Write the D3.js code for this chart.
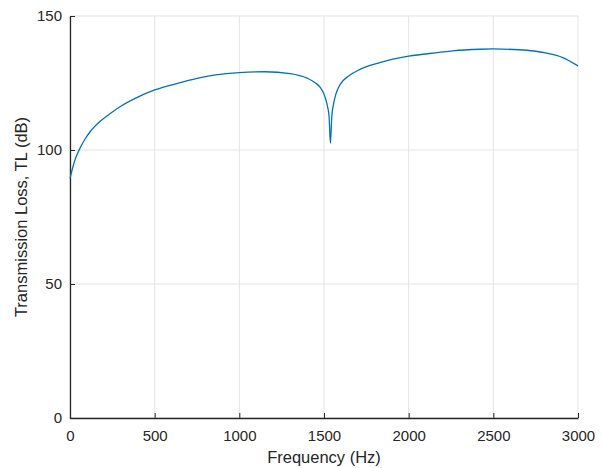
<!DOCTYPE html>
<html>
<head>
<meta charset="utf-8">
<script src="https://cdn.jsdelivr.net/npm/d3@7"></script>
<style>
  body { margin: 0; background: #fff; }
  text { font-family: "Liberation Sans", Arial, sans-serif; }
</style>
</head>
<body>
<div id="chart"></div>
<script>
// values
const freq = [0, 15, 30, 45, 60, 90, 120, 180, 240, 300, 400, 500, 650, 770, 850,
    1000, 1150, 1300, 1400, 1450, 1480, 1505, 1520, 1530, 1538, 1546, 1556, 1570,
    1595, 1650, 1710, 1830, 2000, 2180, 2260, 2420, 2500, 2650, 2810, 2910, 3000];
const tl = [89.4, 93.2, 96.4, 98.8, 100.8, 104.2, 106.9, 110.8, 113.7, 116.3, 119.7, 122.4, 125.1, 127.0, 127.9,
    128.9, 129.2, 128.5, 126.8, 125.0, 123.2, 120.0, 116.5, 112.5, 102.5, 112.5, 117.0, 120.8,
    124.4, 127.8, 130.0, 132.6, 135.0, 136.4, 137.0, 137.6, 137.7, 137.4, 136.2, 134.5, 131.4];
const xTicks = [0, 500, 1000, 1500, 2000, 2500, 3000];
const yTicks = [0, 50, 100, 150];

const width = 602, height = 468;
const margin = { top: 16, right: 24, bottom: 50, left: 70 };

const svg = d3.select("#chart").append("svg")
    .attr("width", width)
    .attr("height", height);

const x = d3.scaleLinear().domain([0, 3000]).range([margin.left, width - margin.right]);
const y = d3.scaleLinear().domain([0, 150]).range([height - margin.bottom, margin.top]);

// grid
svg.append("g")
    .selectAll("line")
    .data(xTicks)
    .join("line")
    .attr("x1", d => x(d)).attr("x2", d => x(d))
    .attr("y1", y(0)).attr("y2", y(150))
    .attr("stroke", "#e3e3e3");

svg.append("g")
    .selectAll("line")
    .data(yTicks)
    .join("line")
    .attr("x1", x(0)).attr("x2", x(3000))
    .attr("y1", d => y(d)).attr("y2", d => y(d))
    .attr("stroke", "#e3e3e3");

// axes
const xAxis = svg.append("g")
    .attr("transform", `translate(0,${y(0)})`)
    .call(d3.axisBottom(x).tickValues(xTicks).tickFormat(d3.format("d"))
        .tickSizeInner(-5).tickSizeOuter(0).tickPadding(12));

const yAxis = svg.append("g")
    .attr("transform", `translate(${x(0)},0)`)
    .call(d3.axisLeft(y).tickValues(yTicks).tickFormat(d3.format("d"))
        .tickSizeInner(-5).tickSizeOuter(0).tickPadding(8));

[xAxis, yAxis].forEach(g => {
    g.select(".domain").attr("stroke", "#262626").attr("stroke-width", 1.3);
    g.selectAll(".tick line").attr("stroke", "#262626");
    g.selectAll(".tick text")
        .attr("fill", "#262626")
        .style("font-size", "15px")
        .style("font-family", "'Liberation Sans', Arial, sans-serif");
});

// curve
const line = d3.line()
    .x((d, i) => x(freq[i]))
    .y(d => y(d))
    .curve(d3.curveMonotoneX);

svg.append("path")
    .datum(tl)
    .attr("fill", "none")
    .attr("stroke", "#0072BD")
    .attr("stroke-width", 1.3)
    .attr("d", line);

// labels
svg.append("text")
    .text("Frequency (Hz)")
    .attr("x", (x(0) + x(3000)) / 2)
    .attr("y", 463)
    .attr("text-anchor", "middle")
    .attr("fill", "#262626")
    .style("font-size", "16.5px");

svg.append("text")
    .text("Transmission Loss, TL (dB)")
    .attr("transform", `translate(27,${(y(0) + y(150)) / 2}) rotate(-90)`)
    .attr("text-anchor", "middle")
    .attr("fill", "#262626")
    .style("font-size", "16.5px");
</script>
</body>
</html>
